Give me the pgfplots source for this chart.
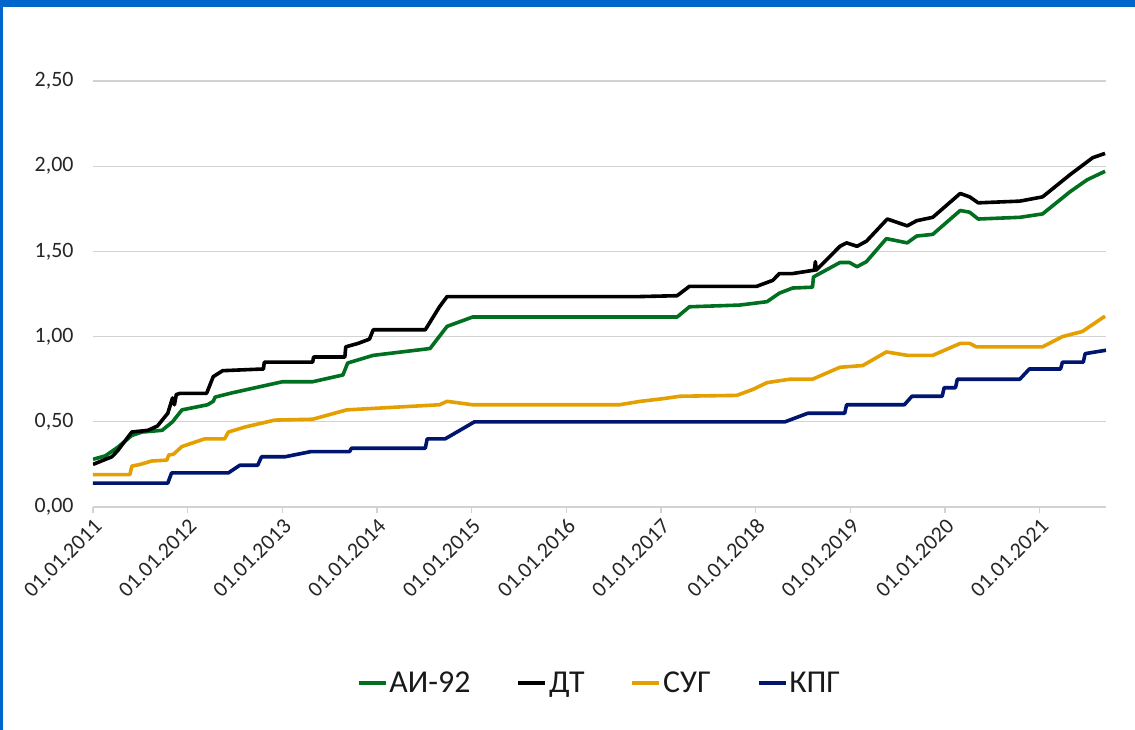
\documentclass[border=0pt]{standalone}
\usepackage{pgfplots}
\pgfplotsset{compat=1.18}
\usepackage{fontspec}
\setmainfont{Carlito}
\definecolor{cgreen}{RGB}{0,112,32}
\definecolor{corange}{RGB}{228,160,0}
\definecolor{cnavy}{RGB}{0,22,110}
\definecolor{cgrid}{RGB}{210,210,210}
\definecolor{cframe}{RGB}{0,102,204}
\begin{document}
\begin{tikzpicture}
\path[use as bounding box] (-93bp,-223bp) rectangle (1042bp,507bp);
\fill[cframe] (-93bp,500bp) rectangle (1042bp,507bp);
\fill[cframe] (-93bp,-223bp) rectangle (-90bp,507bp);
\begin{axis}[
  at={(0,0)}, anchor=south west,
  width=1013bp, height=426bp, scale only axis,
  xmin=2011, xmax=2021.70, ymin=0, ymax=2.5,
  ytick={0,0.5,1,1.5,2,2.5},
  xtick={2011,2012,2013,2014,2015,2016,2017,2018,2019,2020,2021},
  xticklabels={01.01.2011,01.01.2012,01.01.2013,01.01.2014,01.01.2015,01.01.2016,01.01.2017,01.01.2018,01.01.2019,01.01.2020,01.01.2021},
  axis x line*=bottom, axis y line*=left,
  y axis line style={draw=none},
  x axis line style={cgrid, line width=1.3bp},
  ytick style={draw=none},
  xtick style={cgrid, line width=1.3bp},
  tick align=outside, major tick length=6bp,
  ymajorgrids, grid style={cgrid, line width=1.3bp},
  xticklabel style={rotate=45, anchor=north east, font=\fontsize{22}{24}\selectfont, text=black!85, inner sep=3bp},
  yticklabel style={font=\fontsize{22}{24}\selectfont, text=black!85, xshift=-10bp,
    /pgf/number format/.cd, fixed, fixed zerofill, precision=2, use comma},
  /pgf/number format/assume math mode=true,
  legend columns=4,
  legend style={at={(0.5,-0.413)}, anchor=center, draw=none, fill=none,
    font=\fontsize{32}{36}\selectfont, text=black!90,
    nodes={inner sep=2bp},
    /tikz/every even column/.append style={column sep=44bp}},
  legend image code/.code={\draw[#1] (0bp,0bp) -- (27bp,0bp);},
  every axis plot/.append style={line width=3.6bp, line join=round},
]
\addplot[cgreen] coordinates {
(2011.0,0.28) (2011.13,0.30) (2011.26,0.35) (2011.41,0.42) (2011.52,0.44) (2011.73,0.45) (2011.84,0.50) (2011.94,0.57) (2012.21,0.60) (2012.27,0.62) (2012.29,0.645) (2012.47,0.67) (2013.0,0.735) (2013.32,0.735) (2013.64,0.775) (2013.69,0.845) (2013.96,0.89) (2014.56,0.93) (2014.74,1.06) (2015.01,1.115) (2017.17,1.115) (2017.30,1.175) (2017.83,1.185) (2018.12,1.205) (2018.25,1.255) (2018.39,1.285) (2018.60,1.29) (2018.61,1.35) (2018.89,1.435) (2018.99,1.435) (2019.07,1.41) (2019.17,1.44) (2019.38,1.575) (2019.60,1.55) (2019.70,1.59) (2019.87,1.60) (2020.16,1.74) (2020.26,1.73) (2020.35,1.69) (2020.79,1.70) (2021.03,1.72) (2021.32,1.85) (2021.50,1.92) (2021.69,1.97)
};
\addlegendentry{АИ-92}
\addplot[black] coordinates {
(2011.0,0.25) (2011.20,0.295) (2011.26,0.33) (2011.41,0.44) (2011.58,0.45) (2011.68,0.475) (2011.79,0.55) (2011.84,0.64) (2011.86,0.60) (2011.88,0.66) (2011.92,0.667) (2012.20,0.667) (2012.27,0.765) (2012.37,0.80) (2012.80,0.81) (2012.81,0.85) (2013.32,0.85) (2013.33,0.88) (2013.66,0.88) (2013.67,0.94) (2013.80,0.96) (2013.92,0.985) (2013.96,1.04) (2014.51,1.04) (2014.66,1.175) (2014.74,1.235) (2016.78,1.235) (2017.17,1.24) (2017.30,1.295) (2018.01,1.295) (2018.18,1.33) (2018.25,1.37) (2018.39,1.37) (2018.62,1.39) (2018.63,1.44) (2018.64,1.39) (2018.89,1.53) (2018.96,1.55) (2019.07,1.53) (2019.17,1.56) (2019.39,1.69) (2019.60,1.65) (2019.70,1.68) (2019.87,1.70) (2020.16,1.84) (2020.26,1.82) (2020.35,1.785) (2020.79,1.795) (2021.03,1.82) (2021.32,1.95) (2021.56,2.05) (2021.69,2.075)
};
\addlegendentry{ДТ}
\addplot[corange] coordinates {
(2011.0,0.19) (2011.39,0.19) (2011.41,0.24) (2011.5,0.25) (2011.62,0.27) (2011.78,0.275) (2011.80,0.305) (2011.85,0.31) (2011.94,0.355) (2012.18,0.40) (2012.39,0.40) (2012.43,0.44) (2012.61,0.47) (2012.92,0.51) (2013.32,0.515) (2013.68,0.57) (2014.66,0.60) (2014.74,0.62) (2015.01,0.60) (2016.56,0.60) (2016.78,0.62) (2017.01,0.635) (2017.20,0.65) (2017.80,0.655) (2017.97,0.69) (2018.12,0.73) (2018.36,0.75) (2018.60,0.75) (2018.89,0.82) (2019.13,0.83) (2019.38,0.91) (2019.60,0.89) (2019.87,0.89) (2020.16,0.96) (2020.26,0.96) (2020.33,0.94) (2021.03,0.94) (2021.24,1.00) (2021.45,1.03) (2021.69,1.12)
};
\addlegendentry{СУГ}
\addplot[cnavy] coordinates {
(2011.0,0.14) (2011.79,0.14) (2011.81,0.17) (2011.83,0.20) (2012.43,0.20) (2012.55,0.245) (2012.74,0.245) (2012.78,0.295) (2013.03,0.295) (2013.30,0.325) (2013.71,0.325) (2013.73,0.345) (2014.51,0.345) (2014.53,0.40) (2014.72,0.40) (2015.03,0.50) (2018.31,0.50) (2018.55,0.55) (2018.94,0.55) (2018.96,0.60) (2019.57,0.60) (2019.65,0.65) (2019.97,0.65) (2019.99,0.70) (2020.11,0.70) (2020.13,0.75) (2020.79,0.75) (2020.89,0.81) (2021.22,0.81) (2021.24,0.85) (2021.46,0.85) (2021.48,0.90) (2021.70,0.92)
};
\addlegendentry{КПГ}
\end{axis}
\end{tikzpicture}
\end{document}
